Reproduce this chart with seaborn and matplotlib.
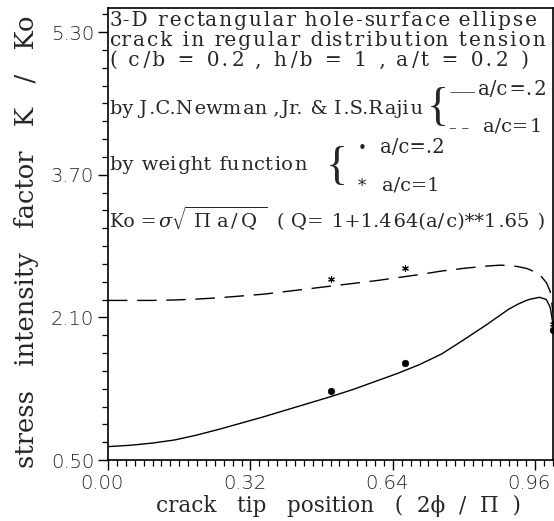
import numpy as np
import pandas as pd
import matplotlib
matplotlib.use("Agg")
import matplotlib.pyplot as plt
import matplotlib.transforms as mtrans
from matplotlib.ticker import FixedLocator
import seaborn as sns

# ---- data ----
x_curve = [0.00, 0.05, 0.10, 0.15, 0.20, 0.25, 0.30, 0.35, 0.40, 0.45, 0.50,
           0.55, 0.60, 0.65, 0.70, 0.75, 0.80, 0.85, 0.88, 0.90, 0.92, 0.94,
           0.95, 0.97, 0.985, 0.993, 0.995, 1.00]
k_newman_ac02 = [0.65, 0.665, 0.69, 0.725, 0.78, 0.845, 0.915, 0.985, 1.06,
                 1.135, 1.21, 1.29, 1.38, 1.47, 1.57, 1.69, 1.85, 2.015, 2.12,
                 2.19, 2.245, 2.29, 2.305, 2.325, 2.30, 2.22, 2.18, 2.02]
k_newman_ac1 = [2.29, 2.29, 2.29, 2.295, 2.305, 2.32, 2.34, 2.36, 2.39, 2.42,
                2.45, 2.48, 2.51, 2.545, 2.58, 2.62, 2.65, 2.675, 2.685, 2.683,
                2.67, 2.65, 2.63, 2.58, 2.49, 2.40, 2.36, 2.15]
x_weight = [0.50, 0.667, 1.00]
k_weight_ac02 = [1.27, 1.585, 1.96]
k_weight_ac1 = [2.53, 2.65, 2.02]

x_ticks = [0.00, 0.32, 0.64, 0.96]
x_ticklabels = ["0.00", "0.32", "0.64", "0.96"]
y_ticks = [0.50, 2.10, 3.70, 5.30]
y_ticklabels = ["0.50", "2.10", "3.70", "5.30"]

title_lines = ["3-D rectangular hole-surface ellipse",
               "crack in regular distribution tension",
               "( c/b = 0.2 , h/b = 1 , a/t = 0.2 )"]
newman_label = "by J.C.Newman ,Jr. & I.S.Rajiu"
weight_label = "by weight function"
ko_left = "Ko ="
ko_math = r"$\sigma\sqrt{\ \mathrm{\Pi\ a\,/\,Q}\ }$"
ko_right = "( Q= 1+1.464(a/c)**1.65 )"

# ---- style ----
sns.set_style("ticks")
SERIF = ["DejaVu Serif", "DejaVu Sans"]
plt.rcParams["font.family"] = SERIF
plt.rcParams["mathtext.fontset"] = "dejavuserif"

W, H = 554, 521
fig = plt.figure(figsize=(W / 100, H / 100), dpi=100)
L, R, T, B = 108, 553, 8, 460
ax = fig.add_axes([L / W, (H - B) / H, (R - L) / W, (B - T) / H])

df = pd.DataFrame({"x": x_curve, "s": k_newman_ac02, "d": k_newman_ac1})
sns.lineplot(data=df, x="x", y="s", ax=ax, color="black", lw=1.0, sort=False)
sns.lineplot(data=df, x="x", y="d", ax=ax, color="black", lw=1.0, sort=False,
             linestyle=(0, (14, 7)))
sns.scatterplot(x=x_weight, y=k_weight_ac02, ax=ax, marker="o", s=22,
                color="black", edgecolor="black", linewidth=0.5, zorder=5)
sns.scatterplot(x=x_weight, y=k_weight_ac1, ax=ax, marker=(6, 2, 0), s=18,
                color="black", edgecolor="black", linewidth=0.8, zorder=5)

ax.set_xlim(0, 1.0)
ax.set_ylim(0.5, 5.57)

ax.set_xticks(x_ticks)
ax.set_xticklabels(x_ticklabels)
ax.set_yticks(y_ticks)
ax.set_yticklabels(y_ticklabels)
ax.xaxis.set_minor_locator(FixedLocator(np.arange(0, 1.001, 0.02)))
ax.yaxis.set_minor_locator(FixedLocator(np.arange(0.5, 5.58, 0.2)))
ax.tick_params(axis="both", which="major", direction="out", length=7,
               width=1.0, color="black", labelsize=14, pad=3)
ax.tick_params(axis="both", which="minor", direction="out", length=4,
               width=0.9, color="black")
for lab in ax.get_xticklabels() + ax.get_yticklabels():
    lab.set_fontfamily("DejaVu Sans")
    lab.set_fontweight("light")
    lab.set_color("#222222")
shift = mtrans.ScaledTranslation(-6 / 100, 0, fig.dpi_scale_trans)
for lab in ax.get_xticklabels():
    lab.set_transform(lab.get_transform() + shift)

for sp in ax.spines.values():
    sp.set_visible(True)
    sp.set_color("black")
    sp.set_linewidth(1.2)

ax.set_xlabel("crack   tip   position   (  2ϕ  /  Π  )", fontsize=15.5)
ax.set_ylabel("stress   intensity   factor   K   /   Ko", fontsize=18.5)
ax.xaxis.set_label_coords((339 - L) / (R - L), -(495 - B) / (B - T))
ax.yaxis.set_label_coords(-(L - 39) / (R - L), (B - 242) / (B - T))

# ---- annotation text, letter-spaced like the old plotter font ----
renderer = fig.canvas.get_renderer()
HS = "\u200a"


def width_of(s, fs):
    t = fig.text(0, 0, s, fontsize=fs, family=SERIF)
    w = t.get_window_extent(renderer).width
    t.remove()
    return w


def fit_text(s, x0, x1, yb, fs=14.0):
    target = x1 - x0
    w0 = width_of(s, fs)
    hs = (width_of("a" + HS * 10 + "b", fs) - width_of("ab", fs)) / 10.0
    n_gaps = len(s) - 1
    n_hs = int(round(max(0.0, target - w0) / hs)) if hs > 0 else 0
    out = s[0]
    for i in range(n_gaps):
        k = (i + 1) * n_hs // n_gaps - i * n_hs // n_gaps
        out += HS * k + s[i + 1]
    w = width_of(out, fs)
    fs_final = fs * target / w
    return fig.text(x0 / W, 1 - yb / H, out, fontsize=fs_final, family=SERIF,
                    va="baseline", ha="left")


fit_text(title_lines[0], 110, 537, 26, 14.5)
fit_text(title_lines[1], 110, 546, 46, 14.5)
fit_text(title_lines[2], 110, 528, 66, 14.5)
fit_text(newman_label, 110, 425, 114)
fit_text(weight_label, 110, 308, 170)

fig.text(427 / W, 1 - 109 / H, "{", fontsize=33, family="Liberation Serif",
         va="center", ha="left")
fig.text(449 / W, 1 - 96 / H, "——", fontsize=9.5, family="DejaVu Serif",
         va="baseline", ha="left")
fit_text("a/c=.2", 478, 547, 95)
fig.text(449 / W, 1 - 132 / H, "– –", fontsize=11, family="DejaVu Serif",
         va="baseline", ha="left")
fit_text("a/c=1", 483, 543, 132)

fig.text(326 / W, 1 - 168 / H, "{", fontsize=33, family="Liberation Serif",
         va="center", ha="left")
fig.text(362 / W, 1 - 149 / H, "•", fontsize=11, family="DejaVu Sans",
         va="center", ha="center")
fit_text("a/c=.2", 380, 445, 153)
fig.text(362 / W, 1 - 191 / H, "*", fontsize=12, family="DejaVu Serif",
         va="baseline", ha="center")
fit_text("a/c=1", 382, 440, 190)

fig.text(110 / W, 1 - 227 / H, ko_left, fontsize=13.5, family=SERIF,
         va="baseline", ha="left")
fig.text(158 / W, 1 - 227 / H, ko_math, fontsize=14, va="baseline",
         ha="left")
fit_text(ko_right, 277, 546, 227)

fig.savefig("out.png", dpi=100, facecolor="white")
